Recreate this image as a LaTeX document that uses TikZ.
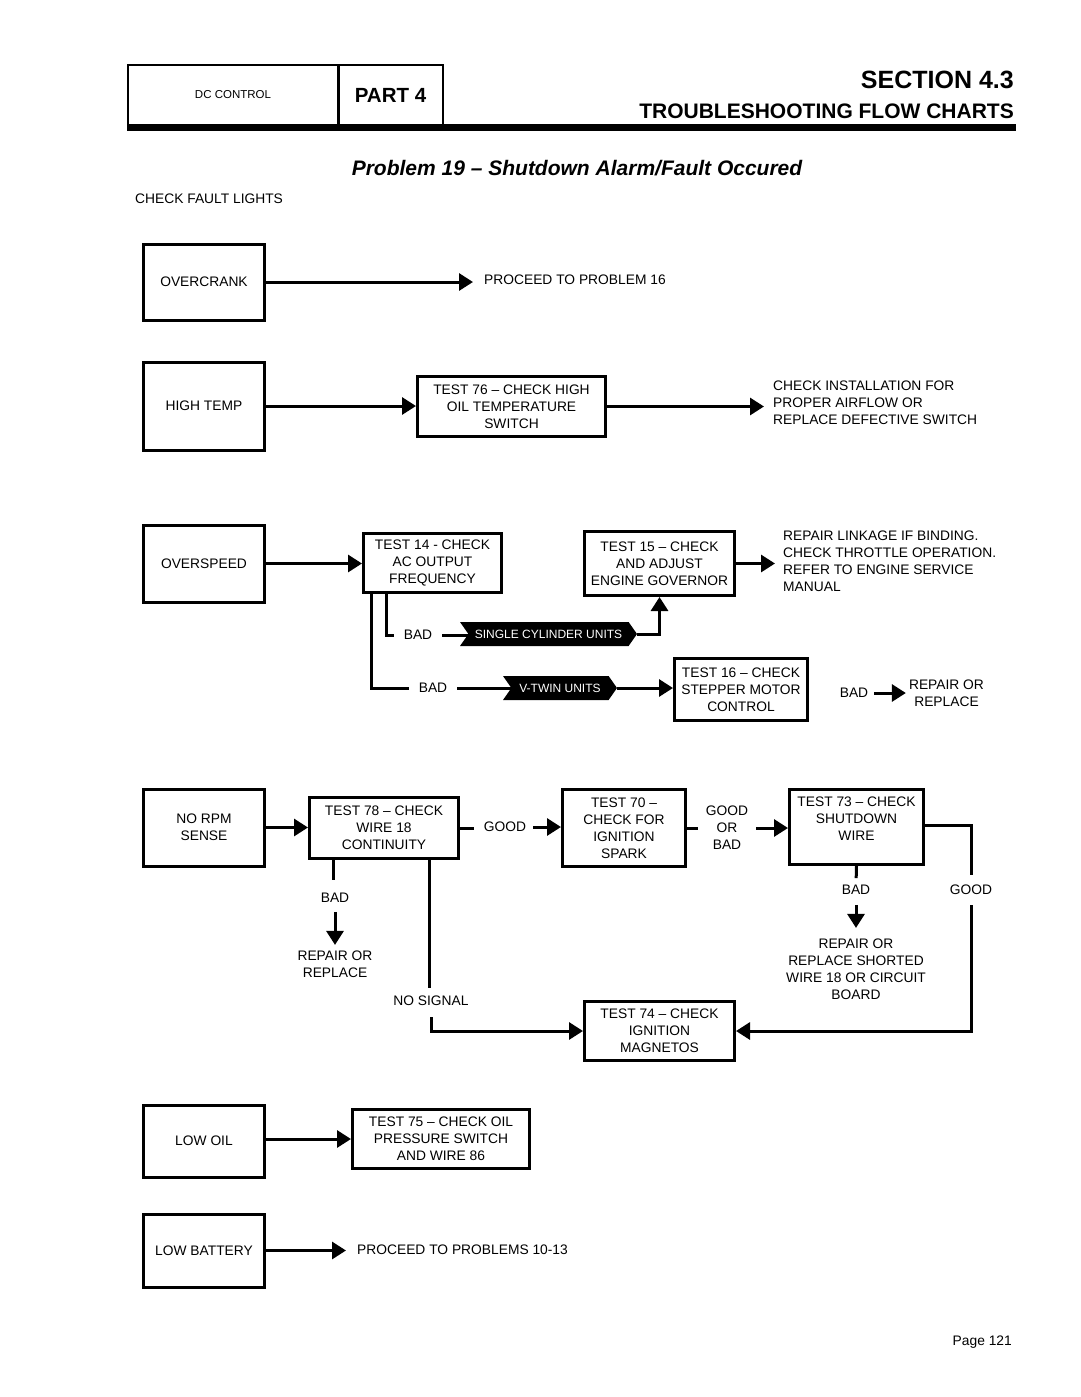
\documentclass[tikz,border=0pt]{standalone}
\usepackage{fontspec}
\setmainfont{Liberation Sans}
\usetikzlibrary{arrows.meta,shapes.symbols}
\tikzset{
  every node/.style={inner sep=0pt, font=\fontsize{13.8}{17}\selectfont, align=center},
  box/.style={draw, line width=3pt, rectangle},
  lbox/.style={box, minimum width=121pt},
  conn/.style={line width=3pt},
  arr/.style={line width=3pt, -{Triangle[length=14pt,width=17pt]}},
  banner/.style={signal, signal to=east, signal from=west, signal pointer angle=110,
     fill=black, text=white, minimum height=24pt, font=\fontsize{12}{14}\selectfont},
  hdr/.style={draw, line width=2pt, minimum height=60pt}
}
\begin{document}
\begin{tikzpicture}[x=1pt,y=-1pt]
\useasboundingbox (0,0) rectangle (1080,1397);
\fill[white] (0,0) rectangle (1080,1397);
% header
\node[hdr, minimum width=211pt] (dc) at (233,95) {\fontsize{11.5}{13}\selectfont DC CONTROL};
\node[hdr, minimum width=105pt] (part) at (390.5,95) {\fontsize{20.5}{24}\selectfont\bfseries PART 4};
\fill (127,123.5) rectangle (1016,131);
\node[anchor=east] (sec) at (1014,80) {\fontsize{25}{30}\selectfont\bfseries SECTION 4.3};
\node[anchor=east] (tfc) at (1014,111) {\fontsize{21}{25}\selectfont\bfseries TROUBLESHOOTING FLOW CHARTS};
\node (title) at (577,168) {\fontsize{21}{25}\selectfont\bfseries\itshape Problem 19 -- Shutdown Alarm/Fault Occured};
\node[anchor=west] (cfl) at (135,199) {CHECK FAULT LIGHTS};

% left boxes
\node[lbox, minimum height=76pt] (overcrank) at (204,282) {OVERCRANK};
\node[lbox, minimum height=88pt] (hightemp) at (204,406) {HIGH TEMP};
\node[lbox, minimum height=77pt] (overspeed) at (204,563.5) {OVERSPEED};
\node[lbox, minimum height=77pt] (norpm) at (204,827.5) {NO RPM\\SENSE};
\node[lbox, minimum height=72pt] (lowoil) at (204,1141) {LOW OIL};
\node[lbox, minimum height=73pt] (lowbat) at (204,1250.5) {LOW BATTERY};

% overcrank
\node[anchor=west] (p16) at (484,280) {PROCEED TO PROBLEM 16};
\draw[arr, shorten >=11pt] (overcrank.east) -- (overcrank.east -| p16.west);

% high temp
\node[box, minimum width=188pt, minimum height=60pt] (t76) at (511.5,406.5) {TEST 76 -- CHECK HIGH\\OIL TEMPERATURE\\SWITCH};
\node[anchor=west, align=left] (airflow) at (773,403) {CHECK INSTALLATION FOR\\PROPER AIRFLOW OR\\REPLACE DEFECTIVE SWITCH};
\draw[arr] (hightemp.east) -- (hightemp.east -| t76.west);
\draw[arr, shorten >=9pt] (t76.east) -- (t76.east -| airflow.west);

% overspeed
\node[box, minimum width=138pt, minimum height=59pt] (t14) at (432.5,563) {TEST 14 - CHECK\\AC OUTPUT\\FREQUENCY};
\node[box, minimum width=150pt, minimum height=64pt] (t15) at (659.5,563.5) {TEST 15 -- CHECK\\AND ADJUST\\ENGINE GOVERNOR};
\node[anchor=west, align=left] (linkage) at (783,561.5) {REPAIR LINKAGE IF BINDING.\\CHECK THROTTLE OPERATION.\\REFER TO ENGINE SERVICE\\MANUAL};
\node[box, minimum width=133pt, minimum height=62pt] (t16) at (741,689.5) {TEST 16 -- CHECK\\STEPPER MOTOR\\CONTROL};
\node (bad1) at (418,635) {BAD};
\node (bad2) at (433,688) {BAD};
\node[banner, minimum width=177pt] (sc) at (548.5,634) {SINGLE CYLINDER UNITS};
\node[banner, minimum width=114pt] (vt) at (560,688) {V-TWIN UNITS};
\node (bad3) at (854,693) {BAD};
\node (rep3) at (946.5,693) {REPAIR OR\\REPLACE};
\draw[arr] (overspeed.east) -- (overspeed.east -| t14.west);
\draw[arr, shorten >=8pt] (t15.east) -- (t15.east -| linkage.west);
\draw[conn, shorten >=10pt] ([xshift=24pt]t14.south west) |- (bad1.west);
\draw[conn, shorten <=10pt] (bad1.east) -- (bad1.east -| sc.west);
\draw[arr] (sc.east) -| (t15.south);
\draw[conn, shorten >=10pt] ([xshift=9pt]t14.south west) |- (bad2.west);
\draw[conn, shorten <=10pt] (bad2.east) -- (bad2.east -| vt.west);
\draw[arr] (vt.east) -- (vt.east -| t16.west);
\draw[arr, shorten <=6pt, shorten >=3pt] (bad3.east) -- (rep3.west);

% no rpm
\node[box, minimum width=149pt, minimum height=61pt] (t78) at (384,828) {TEST 78 -- CHECK\\WIRE 18\\CONTINUITY};
\node (good1) at (505,827) {GOOD};
\node[box, minimum width=123pt, minimum height=77pt] (t70) at (624,828) {TEST 70 --\\CHECK FOR\\IGNITION\\SPARK};
\node (gob) at (727,828) {GOOD\\OR\\BAD};
\node[box, minimum width=134pt, minimum height=75pt] (t73) at (856.5,827) {TEST 73 -- CHECK\\SHUTDOWN\\WIRE\\\mbox{}};
\node (good2) at (971,890) {GOOD};
\node (bad4) at (856,890) {BAD};
\node (rep2) at (856,969.5) {REPAIR OR\\REPLACE SHORTED\\WIRE 18 OR CIRCUIT\\BOARD};
\node (bad5) at (335,898) {BAD};
\node (rep1) at (335,964.5) {REPAIR OR\\REPLACE};
\node (nosig) at (431,1001) {NO SIGNAL};
\node[box, minimum width=150pt, minimum height=59pt] (t74) at (659.5,1031) {TEST 74 -- CHECK\\IGNITION\\MAGNETOS};
\draw[arr] (norpm.east) -- (norpm.east -| t78.west);
\draw[conn, shorten >=10pt] (t78.east) -- (t78.east -| good1.west);
\draw[arr, shorten <=7pt] (good1.east) -- (good1.east -| t70.west);
\draw[conn, shorten >=8pt] (t70.east) -- (t70.east -| gob.west);
\draw[arr, shorten <=8pt] (gob.east) -- (gob.east -| t73.west);
\draw[conn, shorten >=10pt] ([yshift=2pt]t73.east) -| (good2.north);
\draw[arr, shorten <=10pt] (good2.south) |- (t74.east);
\draw[conn, shorten >=7pt] (t73.south) -- (bad4.north);
\draw[arr, shorten <=10pt, shorten >=11pt] (bad4.south) -- (rep2.north);
\draw[conn, shorten >=13pt] ([xshift=25.5pt]t78.south west) -- ([xshift=25.5pt]t78.south west |- bad5.north);
\draw[arr, shorten <=9pt, shorten >=6pt] (bad5.south) -- (rep1.north);
\draw[conn, shorten >=8pt] ([xshift=121.5pt]t78.south west) -- ([xshift=121.5pt]t78.south west |- nosig.north);
\draw[arr, shorten <=11pt] (nosig.south) |- (t74.west);

% low oil / battery
\node[box, minimum width=177pt, minimum height=59pt] (t75) at (441,1139) {TEST 75 -- CHECK OIL\\PRESSURE SWITCH\\AND WIRE 86};
\draw[arr] (lowoil.east |- t75.west) -- (t75.west);
\node[anchor=west] (p1013) at (357,1250) {PROCEED TO PROBLEMS 10-13};
\draw[arr, shorten >=11pt] (lowbat.east) -- (lowbat.east -| p1013.west);

\node[anchor=east] (page) at (1012,1342) {Page 121};
\end{tikzpicture}
\end{document}
